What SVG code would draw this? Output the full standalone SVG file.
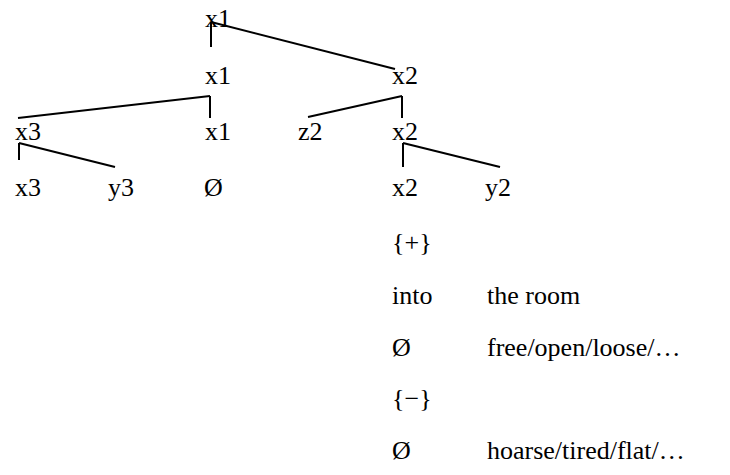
<svg xmlns="http://www.w3.org/2000/svg" width="730" height="475" viewBox="0 0 730 475">
<style>
text{font-family:"Liberation Serif","Times New Roman",serif;font-size:26px;fill:#000}
.c line{stroke:#000;stroke-width:2}
</style>
<rect width="730" height="475" fill="#fff"/>
<g class="c" id="connectors">
<line x1="211" y1="22" x2="211" y2="47"/>
<line x1="211" y1="22" x2="395" y2="69"/>
<line x1="210" y1="96" x2="210" y2="118"/>
<line x1="210" y1="96" x2="18" y2="118"/>
<line x1="402" y1="96" x2="402" y2="118"/>
<line x1="402" y1="96" x2="308" y2="117"/>
<line x1="19" y1="143" x2="19" y2="160"/>
<line x1="19" y1="143" x2="115" y2="167"/>
<line x1="403" y1="143" x2="403" y2="167"/>
<line x1="403" y1="143" x2="500" y2="167"/>
</g>
<g id="n1"><text x="205" y="27">x1</text></g>
<g id="n2"><text x="205" y="84">x1</text></g>
<g id="n3"><text x="392" y="84">x2</text></g>
<g id="n4"><text x="15" y="140">x3</text></g>
<g id="n5"><text x="205" y="140">x1</text></g>
<g id="n6"><text x="298" y="140">z2</text></g>
<g id="n7"><text x="392" y="140">x2</text></g>
<g id="n8"><text x="15" y="196">x3</text></g>
<g id="n9"><text x="108" y="196">y3</text></g>
<g id="n10"><text x="204" y="196">Ø</text></g>
<g id="n11"><text x="392" y="196">x2</text></g>
<g id="n12"><text x="485" y="196">y2</text></g>
<g id="list">
<text x="392" y="251">{+}</text>
<text x="392" y="304">into</text>
<text x="487" y="304">the room</text>
<text x="392" y="356">Ø</text>
<text x="487" y="356">free/open/loose/…</text>
<text x="392" y="407">{−}</text>
<text x="392" y="459">Ø</text>
<text x="487" y="459">hoarse/tired/flat/…</text>
</g>
</svg>
